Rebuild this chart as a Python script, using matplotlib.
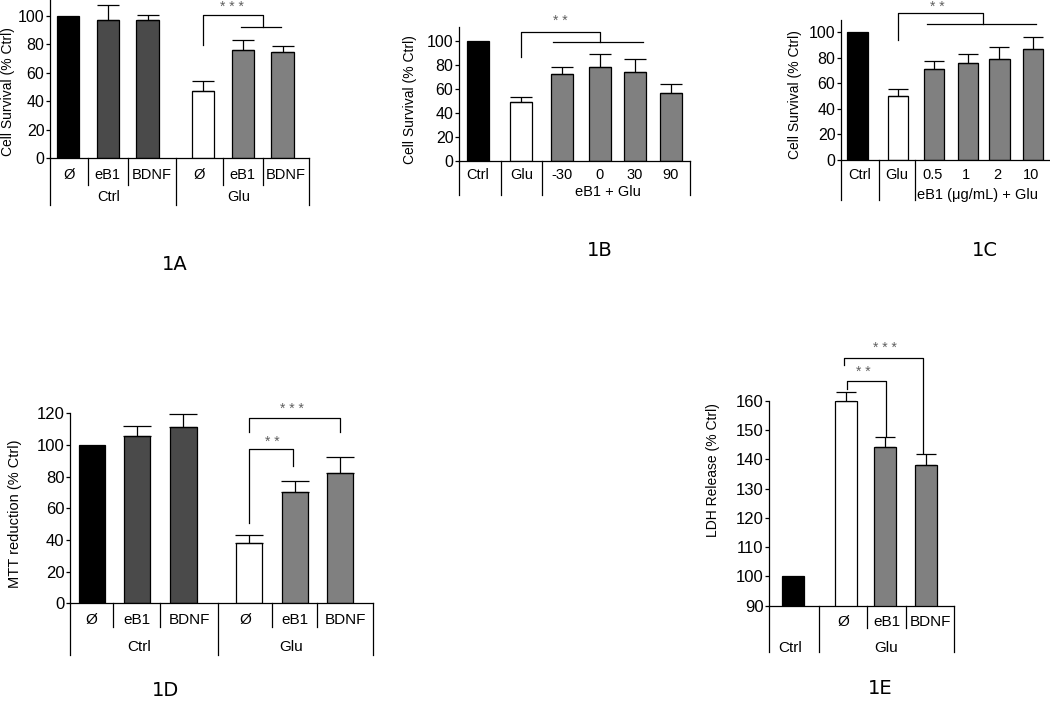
import matplotlib
matplotlib.use('Agg')
import matplotlib.pyplot as plt
from matplotlib.transforms import blended_transform_factory

plt.rcParams['font.family'] = ['Liberation Sans', 'DejaVu Sans']

W, H = 1050, 703
fig = plt.figure(figsize=(W / 100, H / 100), dpi=100)

BLACK, DARK, MID, WHITE = '#000000', '#4a4a4a', '#808080', '#ffffff'
STAR = '#606060'

# ---------------- data ----------------
a_sub = ['Ø', 'eB1', 'BDNF', 'Ø', 'eB1', 'BDNF']
a_groups = ['Ctrl', 'Glu']
a_vals = [100, 97.5, 97, 47.5, 76, 74.5]
a_err = [0, 10.5, 4, 6.5, 7, 4.5]

b_labels = ['Ctrl', 'Glu', '-30', '0', '30', '90']
b_group = 'eB1 + Glu'
b_vals = [100, 49.5, 72.5, 78, 74.5, 57]
b_err = [0, 4, 5.5, 11.5, 10.5, 7]

c_labels = ['Ctrl', 'Glu', '0.5', '1', '2', '10']
c_group = 'eB1 (μg/mL) + Glu'
c_vals = [100, 50.4, 71.3, 76.2, 79.1, 86.9]
c_err = [0, 5.2, 6.2, 7.0, 9.0, 9.4]

d_sub = ['Ø', 'eB1', 'BDNF', 'Ø', 'eB1', 'BDNF']
d_groups = ['Ctrl', 'Glu']
d_vals = [100, 105.7, 111.2, 37.9, 70.3, 82.5]
d_err = [0, 6.3, 8.2, 5.5, 7.2, 10.1]

e_sub = ['Ø', 'eB1', 'BDNF']
e_groups = ['Ctrl', 'Glu']
e_vals = [100, 160, 144.3, 138]
e_err = [0, 3, 3.4, 3.8]


def make_axes(l, t, r, b):
    return fig.add_axes([l / W, 1 - b / H, (r - l) / W, (b - t) / H])


def panel(rect, pos, vals, errs, colors, xlim, ylim, yticks, width, capsize,
          tick_fs=11.5):
    ax = make_axes(*rect)
    ax.bar(pos, vals, width=width, color=colors, edgecolor='black',
           linewidth=0.9, zorder=2)
    for p, v, e in zip(pos, vals, errs):
        if e > 0:
            ax.errorbar(p, v, yerr=[[0], [e]], fmt='none', ecolor='black',
                        elinewidth=0.9, capsize=capsize, capthick=0.9,
                        zorder=3, clip_on=False)
    ax.set_xlim(*xlim)
    ax.set_ylim(*ylim)
    ax.set_yticks(yticks)
    ax.set_yticklabels([str(v) for v in yticks], fontsize=tick_fs)
    ax.set_xticks([])
    for s in ('top', 'right'):
        ax.spines[s].set_visible(False)
    for s in ('left', 'bottom'):
        ax.spines[s].set_linewidth(0.9)
    ax.tick_params(axis='y', direction='out', length=3, width=0.9, pad=1)
    ax.patch.set_alpha(0)
    return ax


def table(ax, seps, labels, fs):
    tr = blended_transform_factory(ax.transData, fig.transFigure)
    y0 = ax.transAxes.transform((0, 0))[1] / fig.bbox.height
    for x, ybot in seps:
        ax.plot([x, x], [y0, 1 - ybot / H], color='black', lw=0.9,
                transform=tr, clip_on=False)
    for x, ypx, txt in labels:
        ax.text(x, 1 - ypx / H, txt, transform=tr, ha='center', va='center',
                fontsize=fs)


def bracket(ax, x1, y1, x2, y2, ytop):
    ax.plot([x1, x1, x2, x2], [y1, ytop, ytop, y2], color='black', lw=0.9,
            clip_on=False)


def stars(ax, x, y, s):
    ax.text(x, y, ' '.join(s), ha='center', va='center', fontsize=10,
            color=STAR, clip_on=False)


def mid(a, b):
    return (a + b) / 2


# ---------------- Panel 1A ----------------
a_pos = [0.46, 1.46, 2.47, 3.87, 4.89, 5.89]
a_seps = [0, 0.96, 1.97, 3.19, 4.38, 5.39, 6.56]
axA = panel((50, 0, 309, 158), a_pos, a_vals, a_err,
            [BLACK, DARK, DARK, WHITE, MID, MID], (0, 6.56), (0, 111.3),
            [0, 20, 40, 60, 80, 100], 0.56, 8)
table(axA,
      [(a_seps[0], 205), (a_seps[1], 185), (a_seps[2], 185), (a_seps[3], 205),
       (a_seps[4], 185), (a_seps[5], 185), (a_seps[6], 205)],
      [(mid(a_seps[i], a_seps[i + 1]), 175, a_sub[i]) for i in range(6)] +
      [(mid(a_seps[0], a_seps[3]) - 0.1, 197, a_groups[0]),
       (mid(a_seps[3], a_seps[6]) - 0.1, 197, a_groups[1])], 10.5)
bracket(axA, a_pos[3], 79.6, mid(a_pos[4], a_pos[5]), 92.3, 100.7)
axA.plot([a_pos[4] - 0.05, a_pos[5] - 0.05], [92.3, 92.3], color='black',
         lw=0.9, clip_on=False)
stars(axA, 4.6, 106.3, '***')
fig.text(8 / W, 1 - 92 / H, 'Cell Survival (% Ctrl)', rotation=90,
         ha='center', va='center', fontsize=10)

# ---------------- Panel 1B ----------------
b_pos = [0.49, 1.62, 2.71, 3.71, 4.63, 5.57]
b_seps = [0, 1.1, 2.18, 6.08]
axB = panel((459, 27, 690, 161), b_pos, b_vals, b_err,
            [BLACK, WHITE, MID, MID, MID, MID], (0, 6.08), (0, 111.7),
            [0, 20, 40, 60, 80, 100], 0.58, 8)
table(axB, [(x, 195) for x in b_seps],
      [(mid(b_seps[0], b_seps[1]) - 0.05, 175, b_labels[0]),
       (mid(b_seps[1], b_seps[2]), 175, b_labels[1])] +
      [(b_pos[i], 175, b_labels[i]) for i in range(2, 6)] +
      [(mid(b_seps[2], b_seps[3]) - 0.2, 192, b_group)], 10.5)
bracket(axB, b_pos[1], 86.7, b_pos[3], 99.2, 107.5)
axB.plot([2.47, 4.84], [99.2, 99.2], color='black', lw=0.9, clip_on=False)
stars(axB, 2.66, 116.5, '**')
fig.text(410 / W, 1 - 100 / H, 'Cell Survival (% Ctrl)', rotation=90,
         ha='center', va='center', fontsize=10)

# ---------------- Panel 1C ----------------
c_pos = [0.49, 1.68, 2.74, 3.74, 4.66, 5.65]
c_seps = [0, 1.12, 2.18, 6.4]
axC = panel((841, 20, 1050, 160), c_pos, c_vals, c_err,
            [BLACK, WHITE, MID, MID, MID, MID], (0, 6.15), (0, 109.6),
            [0, 20, 40, 60, 80, 100], 0.6, 7)
table(axC, [(x, 200) for x in c_seps[:3]],
      [(mid(c_seps[0], c_seps[1]), 175, c_labels[0]),
       (mid(c_seps[1], c_seps[2]), 175, c_labels[1])] +
      [(c_pos[i] - 0.05, 175, c_labels[i]) for i in range(2, 6)] +
      [(4.03, 195, c_group)], 10.5)
bracket(axC, c_pos[1], 94, 4.18, 106.3, 114.9)
axC.plot([2.53, 5.74], [106.3, 106.3], color='black', lw=0.9, clip_on=False)
stars(axC, 2.82, 119.8, '**')
fig.text(795 / W, 1 - 95 / H, 'Cell Survival (% Ctrl)', rotation=90,
         ha='center', va='center', fontsize=10)

# ---------------- Panel 1D ----------------
d_pos = [0.49, 1.49, 2.52, 3.98, 4.99, 6.0]
d_seps = [0, 0.96, 2.0, 3.29, 4.49, 5.49, 6.73]
axD = panel((70, 413.3, 373, 603.3), d_pos, d_vals, d_err,
            [BLACK, DARK, DARK, WHITE, MID, MID], (0, 6.73), (0, 120),
            [0, 20, 40, 60, 80, 100, 120], 0.58, 10, tick_fs=12)
table(axD,
      [(d_seps[0], 655), (d_seps[1], 627), (d_seps[2], 627), (d_seps[3], 655),
       (d_seps[4], 627), (d_seps[5], 627), (d_seps[6], 655)],
      [(mid(d_seps[i], d_seps[i + 1]), 620, d_sub[i]) for i in range(6)] +
      [(mid(d_seps[0], d_seps[3]) - 0.1, 647, d_groups[0]),
       (mid(d_seps[3], d_seps[6]) - 0.1, 647, d_groups[1])], 11)
bracket(axD, d_pos[3], 50.7, d_pos[4] - 0.03, 86.8, 97.5)
stars(axD, mid(d_pos[3], d_pos[4]), 102, '**')
bracket(axD, d_pos[3], 108.3, d_pos[5], 108.3, 117)
stars(axD, 4.93, 122.5, '***')
fig.text(15 / W, 1 - 514 / H, 'MTT reduction (% Ctrl)', rotation=90,
         ha='center', va='center', fontsize=10.5)

# ---------------- Panel 1E ----------------
e_pos = [0.6, 1.93, 2.91, 3.93]
e_seps = [0, 1.25, 2.45, 3.43, 4.63]
axE = panel((769, 401, 954, 605.7), e_pos, e_vals, e_err,
            [BLACK, WHITE, MID, MID], (0, 4.63), (90, 160),
            [90, 100, 110, 120, 130, 140, 150, 160], 0.55, 7, tick_fs=12)
table(axE,
      [(e_seps[0], 652), (e_seps[1], 652), (e_seps[2], 628), (e_seps[3], 628),
       (e_seps[4], 652)],
      [(mid(e_seps[i + 1], e_seps[i + 2]), 622, e_sub[i]) for i in range(3)] +
      [(mid(e_seps[0], e_seps[1]) - 0.1, 648, e_groups[0]),
       (mid(e_seps[1], e_seps[4]), 648, e_groups[1])], 11)
bracket(axE, 1.95, 164.1, 2.93, 147.9, 166.8)
stars(axE, 2.35, 170, '**')
bracket(axE, 1.88, 172.3, 3.85, 142.1, 174.7)
stars(axE, 2.9, 178, '***')
fig.text(713 / W, 1 - 470 / H, 'LDH Release (% Ctrl)', rotation=90,
         ha='center', va='center', fontsize=10)

# ---------------- panel labels ----------------
lab_font = ['Liberation Sans Narrow', 'DejaVu Sans']
for txt, x, y in [('1A', 175, 265), ('1B', 600, 250), ('1C', 985, 250),
                  ('1D', 165, 690), ('1E', 880, 688)]:
    fig.text(x / W, 1 - y / H, txt, ha='center', va='center', fontsize=14,
             family=lab_font)

fig.savefig('out.png', dpi=100)
